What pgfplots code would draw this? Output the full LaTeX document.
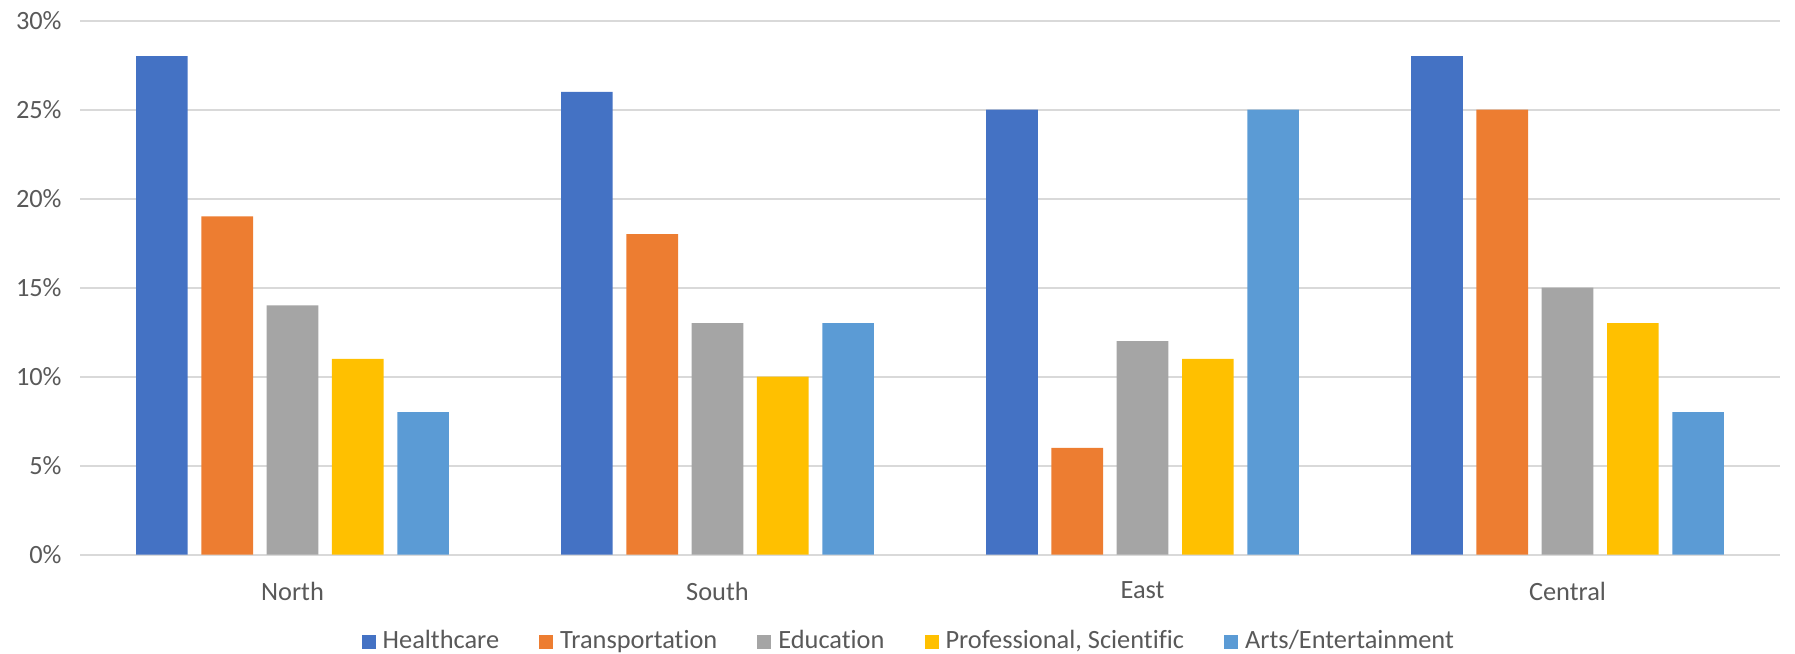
\documentclass[border=0pt]{standalone}
\usepackage{pgfplots}
\pgfplotsset{compat=1.18}
\usepackage{fontspec}
\setmainfont{Carlito}[Ligatures=NoCommon]

\definecolor{cHealth}{HTML}{4472C4}
\definecolor{cTrans}{HTML}{ED7D31}
\definecolor{cEdu}{HTML}{A5A5A5}
\definecolor{cProf}{HTML}{FFC000}
\definecolor{cArts}{HTML}{5B9BD5}
\definecolor{txt}{HTML}{595959}
\definecolor{gridc}{HTML}{D9D9D9}

\begin{document}
\begin{tikzpicture}[font=\fontsize{7.5}{8.7}\selectfont]
\begin{axis}[
    width=170mm, height=53.4mm, scale only axis,
    xmin=-0.5, xmax=3.5, ymin=0, ymax=30,
    axis line style={draw=none},
    major tick length=0pt,
    xtick={0,1,2,3},
    xticklabels={North,South,East,Central},
    ytick={0,5,...,30},
    /pgf/number format/assume math mode=true,
    yticklabel={\pgfmathprintnumber{\tick}\%},
    ticklabel style={text=txt},
    yticklabel style={xshift=-0.6mm},
    xticklabel style={yshift=-1.5mm},
    ymajorgrids,
    grid style={gridc, line width=0.6pt},
    legend columns=5,
    legend style={draw=none, fill=none, at={(0.489,-0.163)}, anchor=center,
        text=txt, font=\fontsize{7.5}{8.7}\selectfont,
        /tikz/every even column/.append style={column sep=3.3mm}},
    legend cell align=left,
    legend image code/.code={\fill[#1] (0mm,-0.7mm) rectangle (1.4mm,0.7mm);},
]
\addplot[ybar, draw=none, fill=cHealth, bar width=0.1214, bar shift=-0.3072]
    coordinates {(0,28) (1,26) (2,25) (3,28)};
\addlegendentry{Healthcare}
\addplot[ybar, draw=none, fill=cTrans, bar width=0.1214, bar shift=-0.1536]
    coordinates {(0,19) (1,18) (2,6) (3,25)};
\addlegendentry{Transportation}
\addplot[ybar, draw=none, fill=cEdu, bar width=0.1214, bar shift=0]
    coordinates {(0,14) (1,13) (2,12) (3,15)};
\addlegendentry{Education}
\addplot[ybar, draw=none, fill=cProf, bar width=0.1214, bar shift=0.1536]
    coordinates {(0,11) (1,10) (2,11) (3,13)};
\addlegendentry{Professional, Scientific}
\addplot[ybar, draw=none, fill=cArts, bar width=0.1214, bar shift=0.3072]
    coordinates {(0,8) (1,13) (2,25) (3,8)};
\addlegendentry{Arts/Entertainment}
\end{axis}
\pgfresetboundingbox
\path ([shift={(-8mm,-9.9mm)}]current axis.south west)
    rectangle ([shift={(1.5mm,2.06mm)}]current axis.north east);
\end{tikzpicture}
\end{document}
